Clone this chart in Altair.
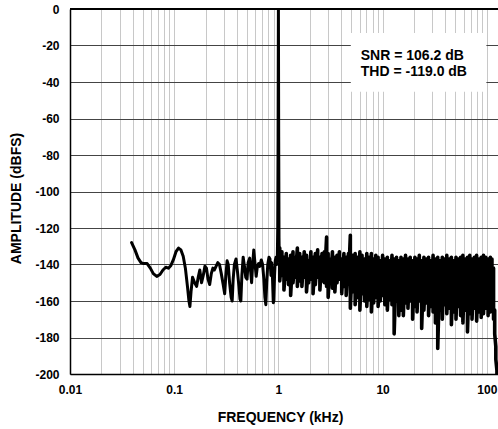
import altair as alt
import pandas as pd

# ---- low-frequency part of the spectrum (kHz, dBFS) ----
freq_a = [0.039, 0.042, 0.045, 0.048, 0.051, 0.055, 0.059, 0.063, 0.068, 0.073,
          0.078, 0.083, 0.088, 0.093, 0.098, 0.104, 0.110, 0.116, 0.122, 0.128,
          0.134, 0.1385, 0.1415, 0.145, 0.150, 0.157, 0.164, 0.170, 0.176, 0.183,
          0.190, 0.197, 0.204, 0.211, 0.219, 0.227, 0.235, 0.243, 0.252, 0.262,
          0.272, 0.283, 0.295, 0.305, 0.313, 0.322, 0.330, 0.340, 0.352, 0.360,
          0.368, 0.378, 0.392, 0.405, 0.418, 0.428, 0.436, 0.446, 0.459, 0.472,
          0.486, 0.500, 0.512, 0.530, 0.542, 0.553, 0.566, 0.580, 0.595, 0.612,
          0.628, 0.645, 0.662, 0.685, 0.705, 0.725, 0.742, 0.757, 0.772, 0.790,
          0.812, 0.830, 0.848, 0.862, 0.878, 0.893, 0.905, 0.918, 0.932, 0.948,
          0.962, 0.975, 0.985, 0.993, 1.0, 1.006, 1.013, 1.02]
level_a = [-128, -132, -136.5, -139, -139.5, -139.5, -142, -145, -146.5, -145.5,
           -143, -141.5, -142, -140.5, -137.5, -133, -131, -132, -135.5, -142,
           -152, -160, -163, -155, -147, -150, -152, -147, -143, -150,
           -146, -141, -142, -148, -151, -145, -142, -143, -141, -139,
           -140, -145, -151, -156, -146, -138, -140, -150, -158, -160,
           -148, -140, -137, -144, -152, -159, -160, -146, -136, -141,
           -147, -148, -139, -136.5, -144, -150, -140, -132, -139, -146.5,
           -141, -139.5, -141, -137.5, -140, -148, -158, -162, -150, -140,
           -136, -137, -146, -139, -148, -161, -160, -146, -138, -136,
           -140, -139, -120, -70, 0, -70, -125, -138]

# ---- dense noise floor above the fundamental: upper / lower swings ----
freq_b = [1.02, 1.03, 1.08, 1.13, 1.19, 1.25, 1.31, 1.38, 1.45, 1.52, 1.6,
          1.68, 1.77, 1.86, 1.95, 2.05, 2.15, 2.26, 2.38, 2.5, 2.62,
          2.76, 2.9, 3.0, 3.15, 3.3, 3.48, 3.65, 3.85, 4.05, 4.25,
          4.47, 4.7, 4.9, 5.15, 5.45, 5.75, 6.05, 6.35, 6.7, 7.05,
          7.4, 7.8, 8.2, 8.6, 9.05, 9.5, 10.0, 10.5, 11.1, 11.7,
          12.3, 12.9, 13.6, 14.3, 15.0, 15.8, 16.6, 17.5, 18.4, 19.4,
          20.4, 21.4, 22.5, 23.7, 24.9, 26.2, 27.6, 29.0, 30.5, 32.1,
          33.8, 35.5, 37.4, 39.3, 41.3, 43.5, 45.7, 48.1, 50.6, 53.2,
          56.0, 58.9, 62.0, 65.2, 68.6, 72.1, 75.9, 79.8, 84.0, 88.3,
          92.9, 97.7, 102.8, 108.1, 112.0, 116.0, 119.0, 122.0, 125.0, 127.5]
high_b = [-138, -131, -133, -136, -134, -137, -135, -133, -136, -131, -134,
          -136, -133, -135, -138, -133, -136, -134, -132, -136, -134,
          -133, -125, -134, -137, -133, -136, -135, -133, -137, -134,
          -136, -134, -124, -135, -134, -136, -133, -135, -137, -134,
          -136, -134, -137, -135, -136, -138, -135, -137, -136, -138,
          -135, -137, -136, -138, -136, -137, -135, -137, -136, -138,
          -136, -137, -135, -138, -136, -137, -136, -138, -135, -137,
          -136, -138, -136, -137, -135, -137, -136, -138, -136, -137,
          -136, -135, -137, -136, -135, -137, -136, -135, -137, -136,
          -135, -136, -137, -136, -137, -142, -165, -185, -198, -200]
low_b = [-138, -149, -146, -154, -148, -151, -157, -150, -147, -152, -149,
         -152, -147, -155, -150, -148, -156, -151, -147, -154, -149,
         -150, -152, -158, -149, -153, -155, -150, -148, -156, -152,
         -157, -150, -164, -155, -162, -158, -165, -156, -160, -163,
         -159, -166, -161, -158, -163, -160, -157, -162, -165, -159,
         -162, -178, -160, -168, -165, -168, -161, -164, -160, -170,
         -163, -166, -160, -175, -165, -161, -168, -163, -166, -172,
         -186, -165, -170, -162, -167, -164, -173, -166, -170, -163,
         -168, -172, -165, -177, -167, -170, -164, -171, -166, -169,
         -167, -164, -168, -166, -163, -170, -178, -192, -200, -200]

# ---- axis ticks / grid ----
x_grid = [0.01, 0.02, 0.03, 0.04, 0.05, 0.06, 0.07, 0.08, 0.09,
          0.1, 0.2, 0.3, 0.4, 0.5, 0.6, 0.7, 0.8, 0.9,
          1, 2, 3, 4, 5, 6, 7, 8, 9,
          10, 20, 30, 40, 50, 60, 70, 80, 90, 100]
y_ticks = [-200, -180, -160, -140, -120, -100, -80, -60, -40, -20, 0]

# ---- annotation ----
note_text = ["SNR = 106.2 dB", "THD = -119.0 dB"]
note_x = [6.17, 6.17]
note_y = [-27.9, -36.7]
box = {"x": 4.95, "x2": 99.0, "y": -13.2, "y2": -45.3}

df_a = pd.DataFrame({"f": freq_a, "db": level_a})
df_a["i"] = range(len(df_a))

rows = []
for f, h, l in zip(freq_b, high_b, low_b):
    rows.append({"f": f, "db": h})
    rows.append({"f": f, "db": l})
df_b = pd.DataFrame(rows)
df_b["i"] = range(len(df_b))

font = "Liberation Sans"

x_scale = alt.Scale(type="log", domain=[0.01, 128], nice=False)
y_scale = alt.Scale(domain=[-200, 0], nice=False)

label_expr = ("datum.value == 0.01 ? '0.01' : datum.value == 0.1 ? '0.1' : "
              "datum.value == 1 ? '1' : datum.value == 10 ? '10' : "
              "datum.value == 100 ? '100' : ''")

x_axis = alt.Axis(values=x_grid, labelExpr=label_expr, title="FREQUENCY (kHz)",
                  grid=True, gridColor="#c8c8c8", gridWidth=1, ticks=False,
                  domainColor="black", domainWidth=1.5,
                  labelFont=font, labelFontSize=12, labelFontWeight=700,
                  labelColor="black", labelPadding=10, labelFlush=False,
                  labelOverlap=False,
                  titleFont=font, titleFontSize=14, titleFontWeight=700,
                  titleColor="black", titleX=210, titleY=47.5,
                  titleBaseline="alphabetic", titleAlign="center")
y_axis = alt.Axis(values=y_ticks, labelExpr="'' + datum.value",
                  title="AMPLITUDE (dBFS)",
                  grid=True, gridColor="#444444", gridWidth=1, ticks=False,
                  domainColor="black", domainWidth=1.5,
                  labelFont=font, labelFontSize=12, labelFontWeight=700,
                  labelColor="black", labelPadding=11, labelOverlap=False,
                  titleFont=font, titleFontSize=14, titleFontWeight=700,
                  titleColor="black", titleAngle=270, titleX=-50, titleY=189,
                  titleBaseline="alphabetic", titleAlign="center")

line_a = alt.Chart(df_a).mark_line(color="black", strokeWidth=3, strokeJoin="round",
                                   strokeCap="round", clip=True).encode(
    x=alt.X("f:Q", scale=x_scale, axis=x_axis),
    y=alt.Y("db:Q", scale=y_scale, axis=y_axis),
    order=alt.Order("i:Q"),
)
line_b = alt.Chart(df_b).mark_line(color="black", strokeWidth=3.6, strokeJoin="round",
                                   strokeCap="round", clip=True).encode(
    x=alt.X("f:Q", scale=x_scale, axis=x_axis),
    y=alt.Y("db:Q", scale=y_scale, axis=y_axis),
    order=alt.Order("i:Q"),
)

box_df = pd.DataFrame([box])
rect = alt.Chart(box_df).mark_rect(color="white").encode(
    x=alt.X("x:Q", scale=x_scale, axis=x_axis), x2="x2:Q",
    y=alt.Y("y:Q", scale=y_scale, axis=y_axis), y2="y2:Q",
)

note_df = pd.DataFrame({"t": note_text, "x": note_x, "y": note_y})
notes = alt.Chart(note_df).mark_text(align="left", baseline="alphabetic",
                                     font=font, fontSize=14, fontWeight=700,
                                     color="black").encode(
    x=alt.X("x:Q", scale=x_scale, axis=x_axis),
    y=alt.Y("y:Q", scale=y_scale, axis=y_axis), text="t:N")

top = alt.Chart(pd.DataFrame({"v": [0]})).mark_rule(color="black", strokeWidth=2).encode(
    y=alt.Y("v:Q", scale=y_scale, axis=y_axis))

chart = alt.layer(line_a, line_b, rect, notes, top).properties(
    width=428, height=365,
    autosize=alt.AutoSizeParams(type="none"),
    padding={"left": 70, "top": 9, "right": 0, "bottom": 55},
    background="white",
).configure_view(stroke=None)

chart.save("out.html", embed_options={"renderer": "svg", "actions": False})
